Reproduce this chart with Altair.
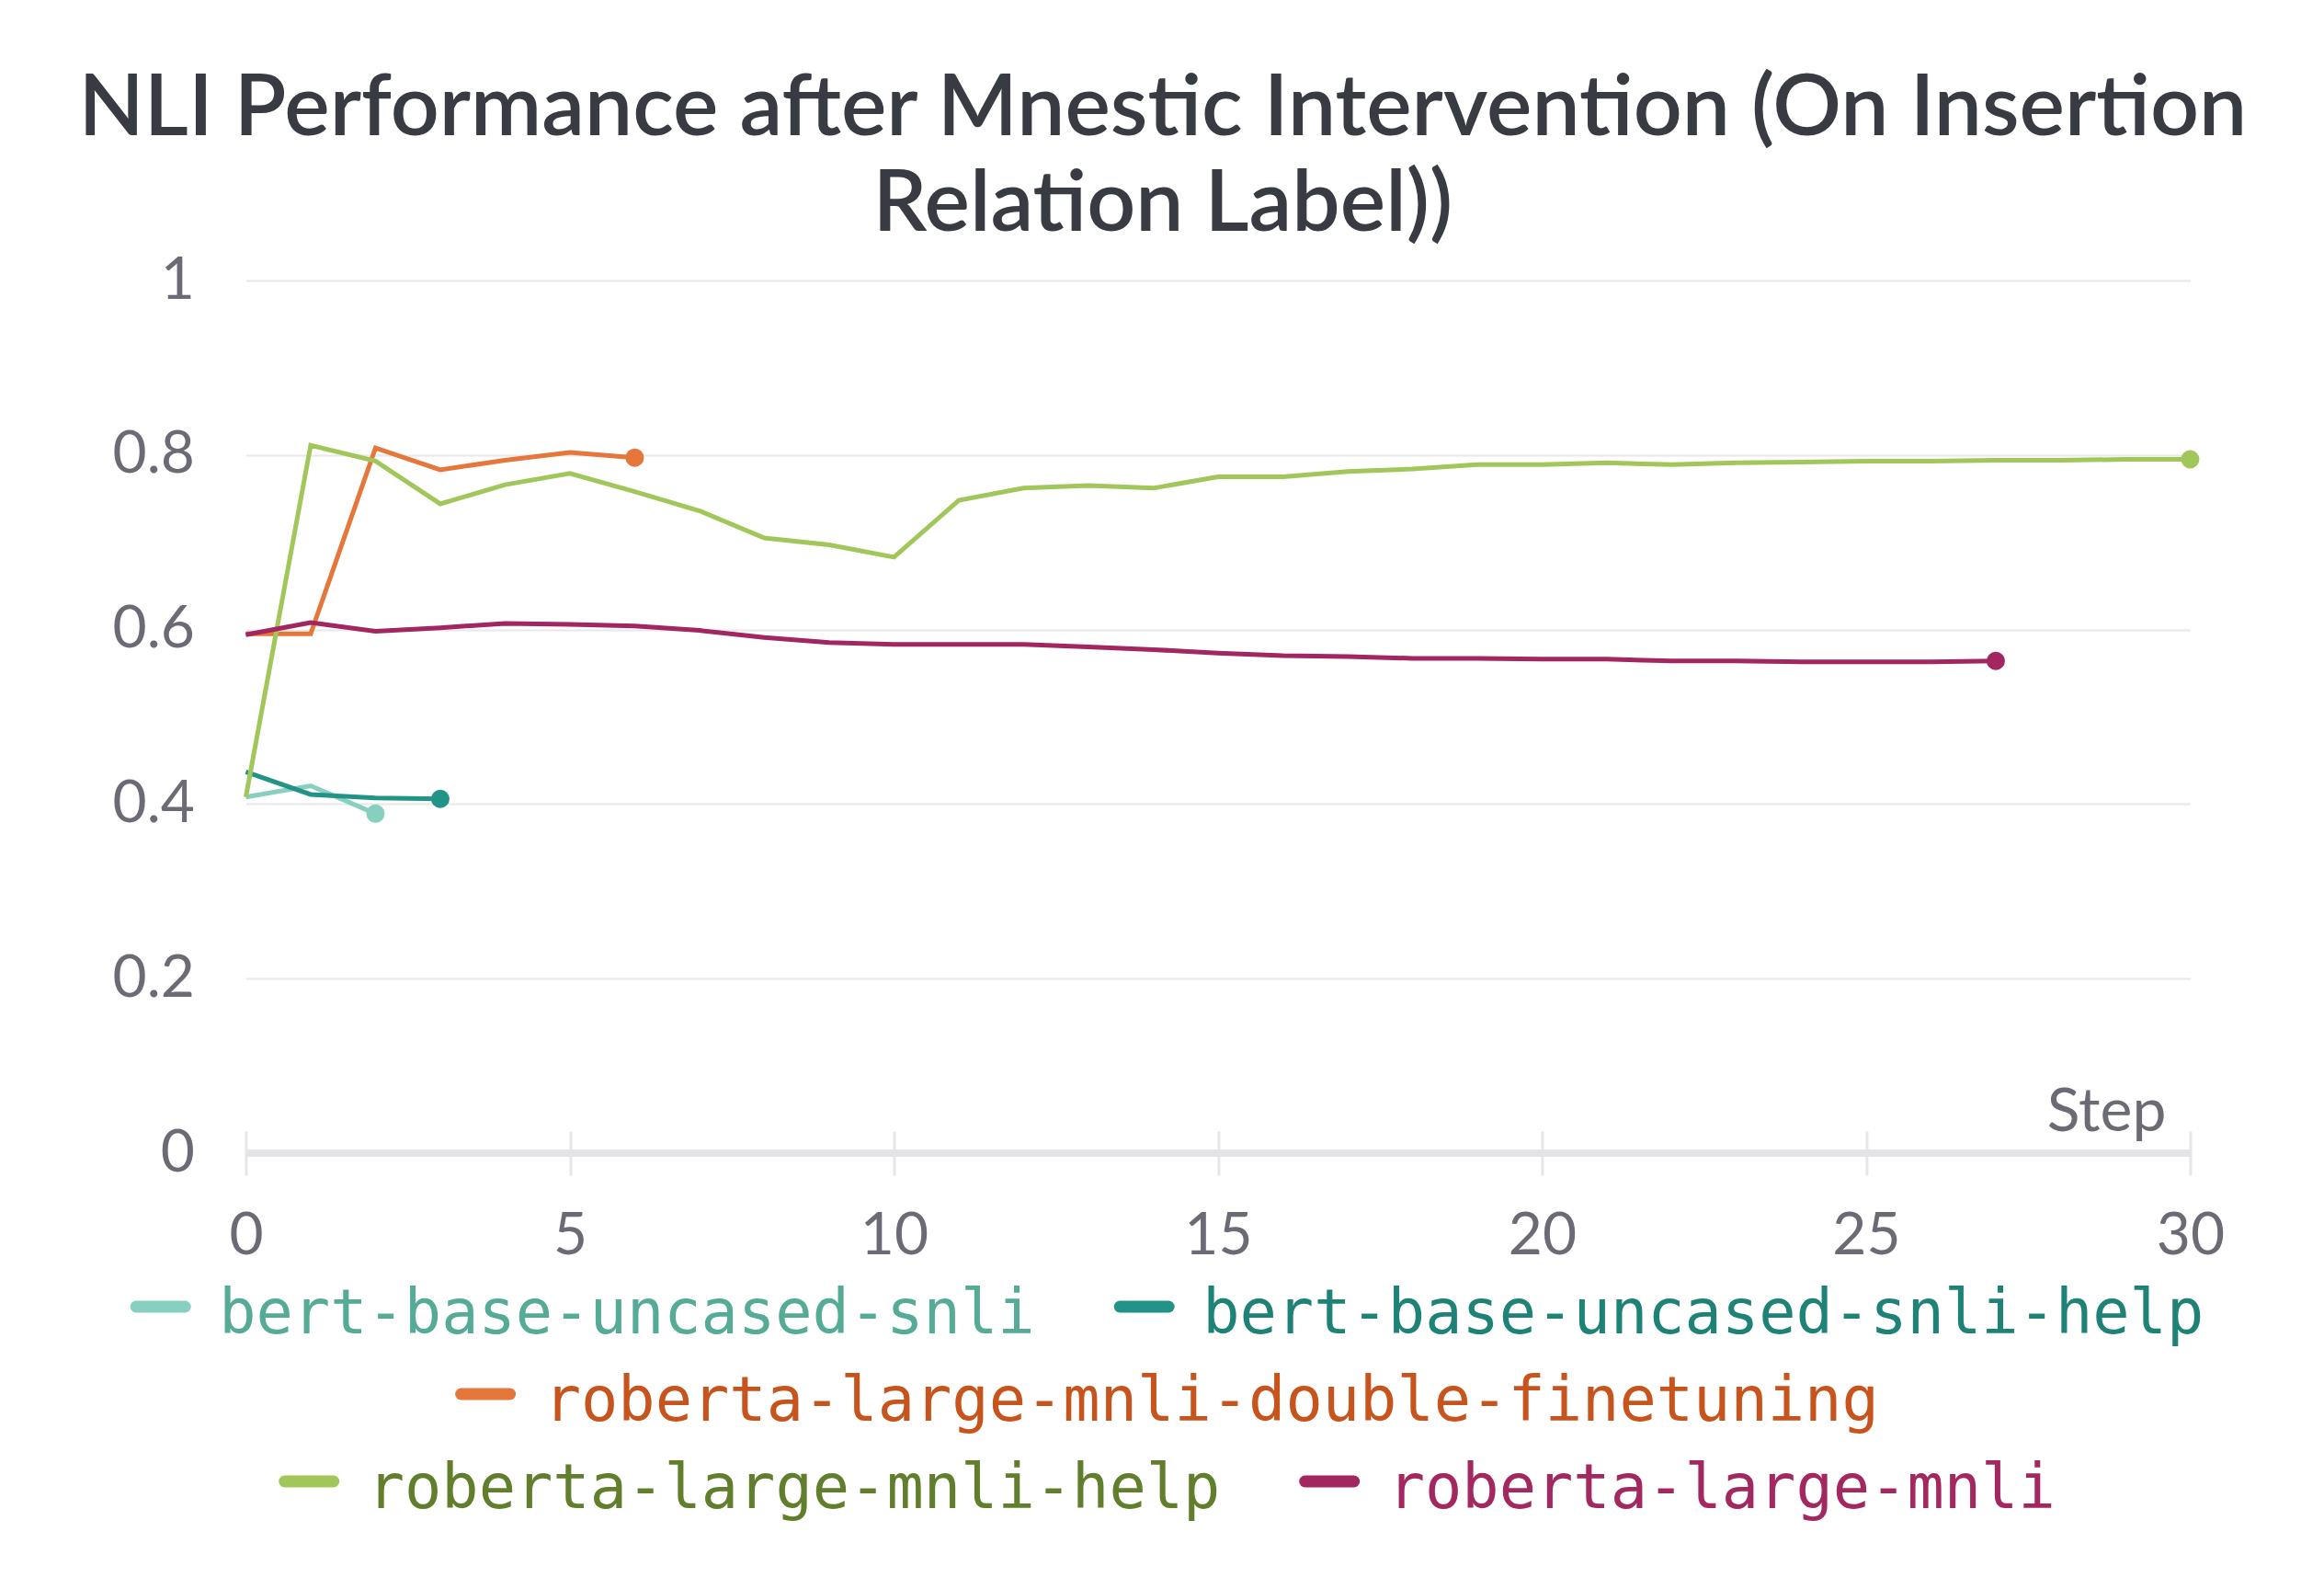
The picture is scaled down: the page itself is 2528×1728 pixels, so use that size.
import altair as alt
import pandas as pd

# ---------------- data ----------------
series_names = [
    "bert-base-uncased-snli",
    "bert-base-uncased-snli-help",
    "roberta-large-mnli-double-finetuning",
    "roberta-large-mnli-help",
    "roberta-large-mnli",
]

steps_snli = [0, 1, 2]
acc_snli = [0.408, 0.421, 0.389]

steps_snli_help = [0, 1, 2, 3]
acc_snli_help = [0.437, 0.411, 0.407, 0.406]

steps_double_ft = [0, 1, 2, 3, 4, 5, 6]
acc_double_ft = [0.595, 0.595, 0.808, 0.783, 0.794, 0.803, 0.797]

steps_mnli_help = list(range(0, 31))
acc_mnli_help = [0.408, 0.811, 0.793, 0.744, 0.766, 0.779, 0.758, 0.736, 0.705, 0.697,
                 0.683, 0.748, 0.762, 0.765, 0.762, 0.775, 0.775, 0.781, 0.784, 0.789,
                 0.789, 0.791, 0.789, 0.791, 0.792, 0.793, 0.793, 0.794, 0.794, 0.795,
                 0.795]

steps_mnli = list(range(0, 28))
acc_mnli = [0.594, 0.608, 0.598, 0.602, 0.607, 0.606, 0.604, 0.599, 0.591, 0.585,
            0.583, 0.583, 0.583, 0.580, 0.577, 0.573, 0.570, 0.569, 0.567, 0.567,
            0.566, 0.566, 0.564, 0.564, 0.563, 0.563, 0.563, 0.564]

x_ticks = [0, 5, 10, 15, 20, 25, 30]
y_ticks = [0, 0.2, 0.4, 0.6, 0.8, 1]
x_title = "Step"

title_lines = ["NLI Performance after Mnestic Intervention (On Insertion",
               "Relation Label))"]

# ---------------- styles ----------------
line_colors = ["#87cfbf", "#229487", "#e6773a", "#a1c75b", "#a2265f"]
text_colors = ["#55ab96", "#1e8276", "#c8541d", "#617e2c", "#a3285f"]
legend_rows = [[0, 1], [2], [3, 4]]
axis_grey = "#6b6b76"
SANS = "Lato"
MONO = "DejaVu Sans Mono"
LEGEND_SHIFT = 149  # moves every legend row left, so the block centres under the whole chart

all_steps = [steps_snli, steps_snli_help, steps_double_ft, steps_mnli_help, steps_mnli]
all_accs = [acc_snli, acc_snli_help, acc_double_ft, acc_mnli_help, acc_mnli]

frames = []
for name, st, ac in zip(series_names, all_steps, all_accs):
    frames.append(pd.DataFrame({"series": name, "step": st, "acc": ac}))
df = pd.concat(frames, ignore_index=True)
last = df.groupby("series", sort=False).tail(1)

W, H = 2115, 949

color_scale = alt.Scale(domain=series_names, range=line_colors)

x_enc = alt.X(
    "step:Q",
    scale=alt.Scale(domain=[min(x_ticks), max(x_ticks)], nice=False),
    axis=alt.Axis(
        values=x_ticks, format="d", offset=-24, tickSize=48, tickWidth=3,
        tickColor="#e6e6e9", domain=False, grid=False,
        labelFontSize=64, labelFont=SANS, labelColor=axis_grey, labelPadding=34,
        labelFlush=False, labelOverlap=False, title=None,
    ),
)
y_enc = alt.Y(
    "acc:Q",
    scale=alt.Scale(domain=[min(y_ticks), max(y_ticks)], nice=False),
    axis=alt.Axis(
        values=y_ticks, format="~g", domain=False, ticks=False,
        labelPadding=56, labelFontSize=64, labelFont=SANS, labelColor=axis_grey,
        grid=True, gridColor="#e8e8eb", gridWidth=2, title=None,
    ),
)

baseline = alt.Chart(pd.DataFrame({"b": [0]})).mark_rule(
    color="#e4e4e7", strokeWidth=8
).encode(y=alt.datum(min(y_ticks)))

step_title = alt.Chart(pd.DataFrame({"t": [x_title]})).mark_text(
    align="right", baseline="alphabetic", dx=-26, dy=-24,
    font=SANS, fontSize=66, color=axis_grey,
).encode(x=alt.datum(max(x_ticks)), y=alt.datum(min(y_ticks)), text="t:N")

lines = alt.Chart(df).mark_line(strokeWidth=5).encode(
    x=x_enc, y=y_enc,
    color=alt.Color("series:N", scale=color_scale, legend=None),
    detail="series:N",
)

dots = alt.Chart(last).mark_circle(size=400, opacity=1).encode(
    x="step:Q", y="acc:Q",
    color=alt.Color("series:N", scale=color_scale, legend=None),
)

main = alt.layer(baseline, lines, dots, step_title).properties(width=W, height=H)


def legend_item(i, shift):
    name = series_names[i]
    w = 97 + len(name) * 40.2 - shift
    base = alt.Chart(pd.DataFrame({"series": [name]}))
    sym = base.mark_rule(strokeWidth=13, strokeCap="round", color=line_colors[i]).encode(
        x=alt.value(7 - shift), x2=alt.value(60 - shift), y=alt.value(35)
    )
    txt = base.mark_text(
        align="left", baseline="middle", font=MONO, fontSize=67, color=text_colors[i]
    ).encode(x=alt.value(97 - shift), y=alt.value(44), text="series:N")
    return alt.layer(sym, txt).properties(width=w, height=95)


rows = [
    alt.hconcat(
        *[legend_item(i, LEGEND_SHIFT if k == 0 else 0) for k, i in enumerate(r)],
        spacing=85,
    )
    for r in legend_rows
]
legend = alt.vconcat(*rows, spacing=0, center=True)

chart = alt.vconcat(main, legend, spacing=10, center=True).properties(
    title=alt.TitleParams(
        text=title_lines, font=SANS, fontSize=93, fontWeight=600, color="#383b41",
        anchor="middle", lineHeight=104, offset=2, dx=-6,
    ),
    padding={"left": 76, "top": 65, "right": 5, "bottom": 5},
    background="white",
).configure_view(stroke=None)

chart.save("out.html", embed_options={"renderer": "svg", "actions": False})
